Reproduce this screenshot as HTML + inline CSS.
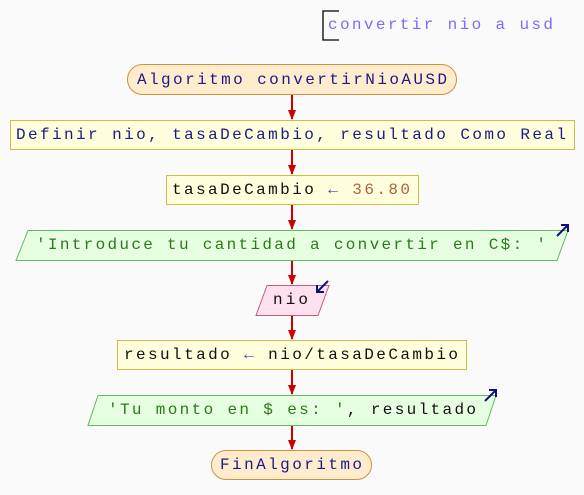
<!DOCTYPE html>
<html><head><meta charset="utf-8"><style>
html,body{margin:0;padding:0;background:#fafafa;}
svg{display:block}
text{font-family:"Liberation Mono","DejaVu Sans Mono",monospace;font-size:16px;dominant-baseline:central}
</style></head><body>
<svg width="584" height="495" viewBox="0 0 584 495" xmlns="http://www.w3.org/2000/svg">
<defs>
<marker id="ah" markerWidth="10" markerHeight="8" refX="9" refY="4" orient="auto" markerUnits="userSpaceOnUse">
<path d="M0,0 L10,4 L0,8 Z" fill="#cc0000"/></marker>
</defs>
<rect width="584" height="495" fill="#fafafa"/>
<path d="M339,11 H323 V40 H339" fill="none" stroke="#000" stroke-width="1.3"/>
<text x="328" y="25" fill="#7a6cff" textLength="225" lengthAdjust="spacing">convertir nio a usd</text>
<g stroke="#cc0000" stroke-width="2" marker-end="url(#ah)">
<line x1="292" y1="95" x2="292" y2="119"/>
<line x1="292" y1="150" x2="292" y2="174"/>
<line x1="292" y1="205" x2="292" y2="229"/>
<line x1="292" y1="260" x2="292" y2="284"/>
<line x1="292" y1="315" x2="292" y2="339"/>
<line x1="292" y1="370" x2="292" y2="394"/>
<line x1="292" y1="425" x2="292" y2="449"/>
</g>
<rect x="127.5" y="64.5" width="329" height="30" rx="15" fill="#ffeccc" stroke="#d09040"/>
<text x="137" y="80" fill="#1a1a8a" textLength="310" lengthAdjust="spacing">Algoritmo convertirNioAUSD</text>
<rect x="10.5" y="120.5" width="564" height="29" fill="#ffffdd" stroke="#c8c040"/>
<text x="16" y="135" fill="#1a1a8a" textLength="550" lengthAdjust="spacing">Definir nio, tasaDeCambio, resultado Como Real</text>
<rect x="166.5" y="175.5" width="252" height="29" fill="#ffffdd" stroke="#c8c040"/>
<text x="172" y="190" textLength="238" lengthAdjust="spacing"><tspan fill="#111">tasaDeCambio </tspan><tspan fill="#4040a0">← </tspan><tspan fill="#b06040">36.80</tspan></text>
<polygon points="28,230.5 568,230.5 557,260.5 16,260.5" fill="#e6ffe0" stroke="#5bbf5b"/>
<text x="36" y="245" fill="#2a7a1a" textLength="510" lengthAdjust="spacing">'Introduce tu cantidad a convertir en C$: '</text>
<path d="M557,236 L568,225 M561,225 H568 V232" fill="none" stroke="#10107a" stroke-width="2"/>
<polygon points="267,285.5 329,285.5 318,315.5 256,315.5" fill="#ffe0ee" stroke="#c06080"/>
<text x="273" y="300" fill="#111" textLength="35" lengthAdjust="spacing">nio</text>
<path d="M328,281 L317,292 M317,285 V292 H324" fill="none" stroke="#10107a" stroke-width="2"/>
<rect x="117.5" y="340.5" width="349" height="29" fill="#ffffdd" stroke="#c8c040"/>
<text x="124" y="355" textLength="334" lengthAdjust="spacing"><tspan fill="#111">resultado </tspan><tspan fill="#4040a0">← </tspan><tspan fill="#111">nio/tasaDeCambio</tspan></text>
<polygon points="98,395.5 496,395.5 486,425.5 88,425.5" fill="#e6ffe0" stroke="#5bbf5b"/>
<text x="108" y="410" textLength="368" lengthAdjust="spacing"><tspan fill="#2a7a1a">'Tu monto en $ es: '</tspan><tspan fill="#111">, resultado</tspan></text>
<path d="M485,401 L496,390 M489,390 H496 V397" fill="none" stroke="#10107a" stroke-width="2"/>
<rect x="211.5" y="450.5" width="160" height="29" rx="14.5" fill="#ffeccc" stroke="#d09040"/>
<text x="220" y="465" fill="#1a1a8a" textLength="142" lengthAdjust="spacing">FinAlgoritmo</text>
</svg>
</body></html>
